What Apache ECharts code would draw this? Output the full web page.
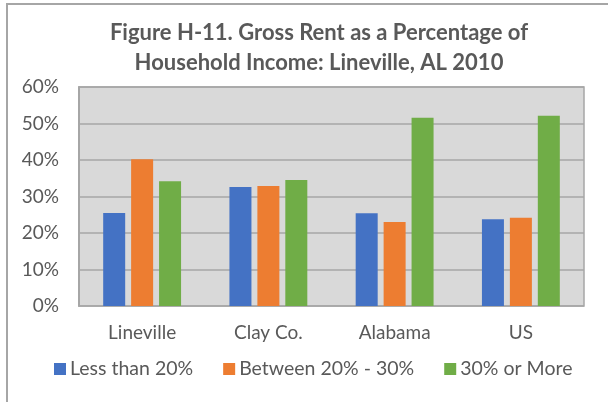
<!DOCTYPE html>
<html>
<head>
<meta charset="utf-8">
<style>
  html, body { margin: 0; padding: 0; background: #ffffff; }
  #chart { width: 608px; height: 402px; }
</style>
<script src="https://cdn.jsdelivr.net/npm/echarts@6/dist/echarts.min.js"></script>
</head>
<body>
<div id="chart"></div>
<script>
// Gross rent as a share of household income, 2010
const categories = ['Lineville', 'Clay Co.', 'Alabama', 'US'];
const seriesNames = ['Less than 20%', 'Between 20% - 30%', '30% or More'];
const lessThan20 = [25.5, 32.6, 25.4, 23.8];
const between20and30 = [40.2, 32.9, 23.0, 24.2];
const thirtyOrMore = [34.2, 34.5, 51.6, 52.1];
const yTicks = [0, 10, 20, 30, 40, 50, 60];
const titleText = 'Figure H-11. Gross Rent as a Percentage of\nHousehold Income: Lineville, AL 2010';

const colors = ['#4472c4', '#ed7d31', '#70ad47'];
const textColor = '#595959';
const fontFamily = 'Lato, "Open Sans", sans-serif';

const chart = echarts.init(document.getElementById('chart'));

const values = [lessThan20, between20and30, thirtyOrMore];

chart.setOption({
  animation: false,
  graphic: [{
    type: 'rect',
    shape: { x: 7, y: 4, width: 660, height: 460 },
    style: { fill: 'none', stroke: '#a6a6a6', lineWidth: 2 },
    silent: true
  }, {
    type: 'text',
    x: 319,
    y: 48,
    silent: true,
    style: {
      text: titleText,
      fill: textColor,
      fontFamily: fontFamily,
      fontWeight: 'bold',
      fontSize: 22,
      lineHeight: 30,
      align: 'center',
      verticalAlign: 'middle'
    }
  }],
  legend: {
    data: seriesNames,
    left: 54,
    top: 359,
    padding: 0,
    icon: 'rect',
    itemWidth: 12,
    itemHeight: 12,
    itemGap: 30,
    textStyle: { color: textColor, fontFamily: fontFamily, fontSize: 19.5, padding: [0, 0, 0, -1] }
  },
  grid: {
    left: 79,
    right: 24,
    top: 87,
    bottom: 96,
    show: true,
    backgroundColor: '#d9d9d9',
    borderColor: '#a6a6a6',
    borderWidth: 1.5,
    containLabel: false
  },
  xAxis: {
    type: 'category',
    data: categories,
    axisTick: { show: false },
    axisLine: { show: false },
    axisLabel: {
      color: textColor,
      fontFamily: fontFamily,
      fontSize: 19,
      margin: 17
    }
  },
  yAxis: {
    type: 'value',
    min: yTicks[0],
    max: yTicks[yTicks.length - 1],
    interval: 10,
    axisLine: { show: true, lineStyle: { color: '#a6a6a6', width: 2 } },
    axisTick: { show: false },
    splitLine: { lineStyle: { color: '#a6a6a6', width: 1.5 } },
    axisLabel: {
      color: textColor,
      fontFamily: fontFamily,
      fontSize: 19,
      margin: 20,
      formatter: function (v) { return v + '%'; }
    }
  },
  series: seriesNames.map(function (name, i) {
    return {
      name: name,
      type: 'bar',
      data: values[i],
      barWidth: 22,
      barGap: '27%',
      itemStyle: { color: colors[i] }
    };
  })
});
</script>
</body>
</html>
